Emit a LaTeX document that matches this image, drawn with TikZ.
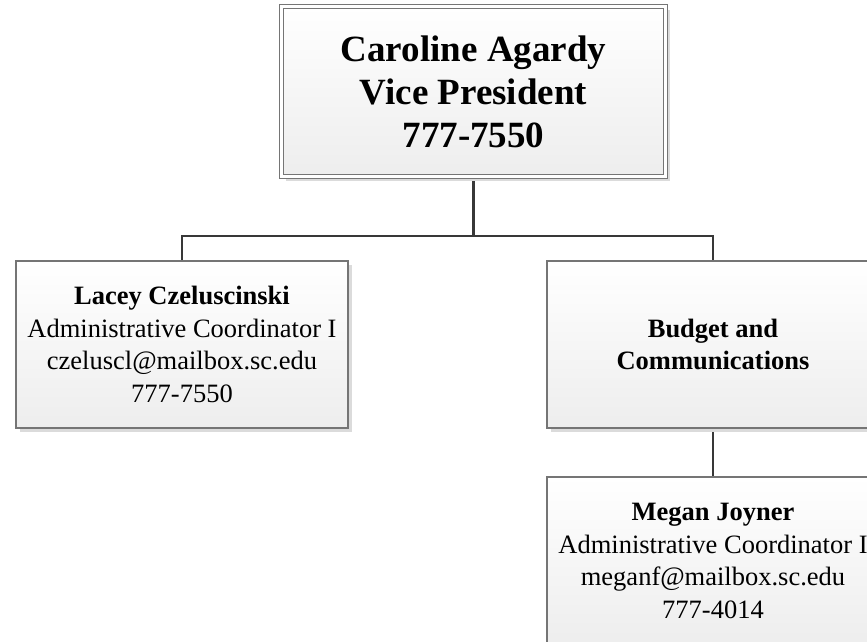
\documentclass[tikz,border=0pt]{standalone}
\usepackage{fontspec}
\setmainfont{Liberation Serif}
\usetikzlibrary{shadows,backgrounds}
\definecolor{boxline}{HTML}{757575}
\definecolor{conn}{HTML}{383838}
\begin{document}
\begin{tikzpicture}[x=1pt,y=-1pt,
  orgbox/.style={draw=boxline, line width=1.3pt, top color=white, bottom color=gray!14,
    minimum width=332pt, align=center, inner sep=0pt,
    drop shadow={shadow xshift=4pt, shadow yshift=-4pt, fill=gray!28, opacity=1},
    font=\fontsize{26.5}{32.5}\selectfont},
  topbox/.style={draw=boxline, line width=1.2pt, double=white, double distance=3.2pt,
    top color=white, bottom color=gray!14, minimum width=384pt, minimum height=170pt,
    align=center, inner sep=0pt,
    drop shadow={shadow xshift=4pt, shadow yshift=-4pt, fill=gray!28, opacity=1},
    font=\fontsize{37}{43}\selectfont\bfseries},
  link/.style={draw=conn, line width=2.4pt}]
\clip (0,0) rectangle (867,642);
\node[topbox] (vp) at (473.5,91.5) {Caroline Agardy\\Vice President\\777-7550};
\node[orgbox, minimum height=167pt] (lacey) at (182,344.5)
  {\textbf{Lacey Czeluscinski}\\Administrative Coordinator I\\czeluscl@mailbox.sc.edu\\777-7550};
\node[orgbox, minimum height=167pt] (budget) at (713,344.5)
  {\textbf{Budget and}\\\textbf{Communications}};
\node[orgbox, minimum height=168pt] (megan) at (713,561)
  {\textbf{Megan Joyner}\\Administrative Coordinator I\\meganf@mailbox.sc.edu\\777-4014};
\coordinate (bus) at (473.5,236);
\begin{scope}[on background layer]
\draw[link] (vp.south) -- (bus);
\draw[link] (lacey.north) |- (bus) -| (budget.north);
\draw[link] (budget.south) -- (megan.north);
\end{scope}
\end{tikzpicture}
\end{document}
